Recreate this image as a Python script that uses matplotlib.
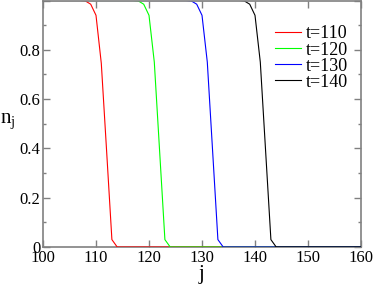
import matplotlib
matplotlib.use("Agg")
import matplotlib.pyplot as plt
from matplotlib.ticker import MultipleLocator, FixedLocator

plt.rcParams['font.family'] = 'serif'
plt.rcParams['font.serif'] = ['Liberation Serif', 'DejaVu Serif']
plt.rcParams['mathtext.fontset'] = 'custom'
plt.rcParams['mathtext.rm'] = 'Liberation Serif'
plt.rcParams['mathtext.it'] = 'Liberation Serif:italic'

# data
labels = ["t=110", "t=120", "t=130", "t=140"]
colors = ["#ff0000", "#00ff00", "#0000ff", "#000000"]
j_110 = [100, 107, 108, 109, 110, 111, 112, 113, 114, 160]
n_110 = [1.0, 1.0, 0.998, 0.985, 0.94, 0.745, 0.39, 0.03, 0.0, 0.0]
j_120 = [100, 117, 118, 119, 120, 121, 122, 123, 124, 160]
n_120 = [1.0, 1.0, 0.998, 0.985, 0.94, 0.75, 0.39, 0.03, 0.0, 0.0]
j_130 = [100, 127, 128, 129, 130, 131, 132, 133, 134, 160]
n_130 = [1.0, 1.0, 0.998, 0.985, 0.94, 0.75, 0.39, 0.03, 0.0, 0.0]
j_140 = [100, 137, 138, 139, 140, 141, 142, 143, 144, 160]
n_140 = [1.0, 1.0, 0.998, 0.985, 0.94, 0.75, 0.39, 0.03, 0.0, 0.0]
series_j = [j_110, j_120, j_130, j_140]
series_n = [n_110, n_120, n_130, n_140]
xticks = [100, 110, 120, 130, 140, 150, 160]
yticks = [0, 0.2, 0.4, 0.6, 0.8, 1.0]
ytick_labels = ["0", "0.2", "0.4", "0.6", "0.8", ""]

fig = plt.figure(figsize=(3.74, 2.87), dpi=100)
ax = fig.add_axes([43/374, 40/287, 318/374, 246.5/287])

for jj, nn, c, lab in zip(series_j, series_n, colors, labels):
    ax.plot(jj, nn, color=c, lw=0.8, label=lab, zorder=3)

ax.set_xlim(100, 160)
ax.set_ylim(0, 1.0)
ax.set_xticks(xticks)
ax.set_xticklabels([str(x) for x in xticks])
ax.yaxis.set_major_locator(FixedLocator(yticks))
ax.set_yticklabels(ytick_labels)
ax.yaxis.set_minor_locator(MultipleLocator(0.1))

for s in ax.spines.values():
    s.set_color('#808080')
    s.set_linewidth(1.2)
    s.set_zorder(2.5)
ax.spines['top'].set_zorder(4)

ax.tick_params(which='both', direction='in', top=True, right=True, color='#808080',
               width=1.0, labelsize=12, pad=2)
ax.tick_params(which='major', length=5)
ax.tick_params(which='minor', length=2.5)

ax.set_ylabel(r"n$_\mathrm{j}$", rotation=0, fontsize=15)
ax.yaxis.set_label_coords(-0.11, 0.47)
ax.set_xlabel("j", fontsize=15)
ax.xaxis.set_label_coords(0.5, -0.075)

leg = ax.legend(loc='upper right', bbox_to_anchor=(1.0, 0.95), frameon=False,
                fontsize=13, handlelength=1.45, handletextpad=0.3,
                labelspacing=-0.05, borderaxespad=0.3)

fig.savefig("out.png", dpi=100)
